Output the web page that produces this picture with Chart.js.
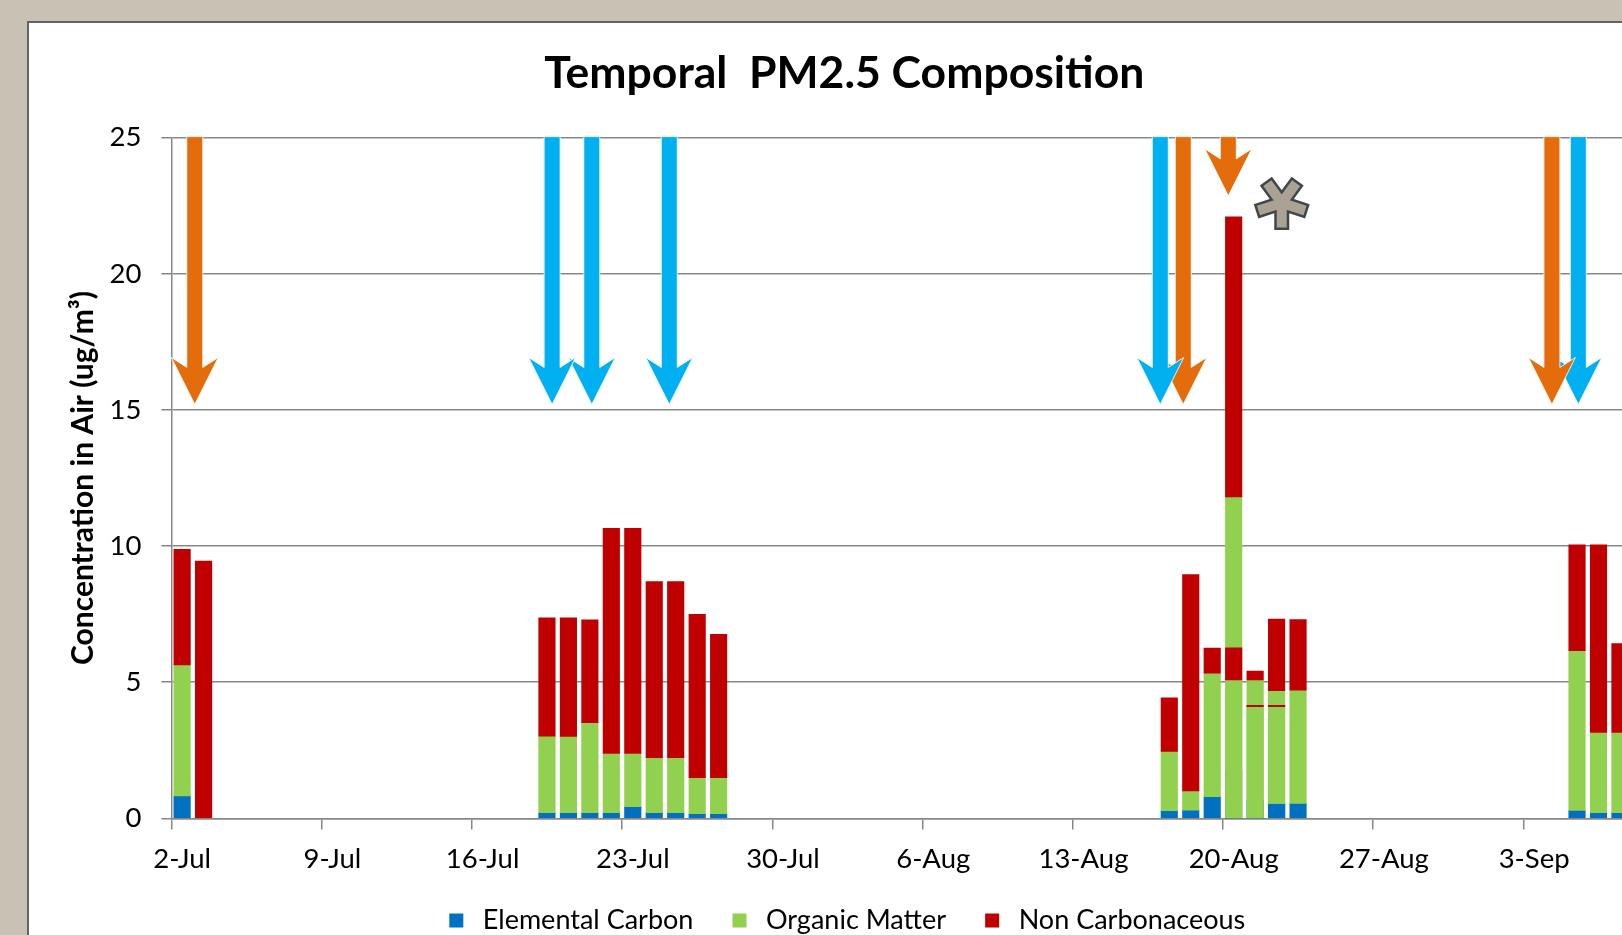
<!DOCTYPE html>
<html>
<head>
<meta charset="utf-8">
<title>Temporal PM2.5 Composition</title>
<script src="https://cdn.jsdelivr.net/npm/chart.js@4/dist/chart.umd.min.js"></script>
<style>
  html, body { margin: 0; padding: 0; width: 1622px; height: 935px; overflow: hidden; background: #c9c1b4; }
  #panel { position: absolute; left: 27px; top: 21px; width: 1720px; height: 1000px; background: #fff; border: 2px solid #5f6467; }
  #chart { position: absolute; left: 0; top: 0; }
</style>
</head>
<body>
<div id="panel"></div>
<canvas id="chart" width="1700" height="1000"></canvas>
<script>
// Sample days. A date may appear twice (two filters on one day) — Excel's
// date axis stacks them on the same slot, the later one painting over.
const sampleDates = [
  "2-Jul", "3-Jul",
  "19-Jul", "20-Jul", "21-Jul", "22-Jul", "23-Jul", "24-Jul", "25-Jul", "26-Jul", "27-Jul",
  "17-Aug", "18-Aug", "19-Aug", "20-Aug", "20-Aug", "21-Aug", "21-Aug", "22-Aug", "22-Aug", "23-Aug",
  "5-Sep", "6-Sep", "7-Sep",
];
const elementalCarbon = [
  0.82, 0,
  0.21, 0.21, 0.21, 0.21, 0.43, 0.21, 0.21, 0.17, 0.17,
  0.28, 0.30, 0.79, 0, 1.75, 0, 0.67, 0.55, 0.55, 0.55,
  0.29, 0.21, 0.21,
];
const organicMatter = [
  4.81, 0,
  2.81, 2.80, 3.30, 2.17, 1.95, 2.02, 2.02, 1.32, 1.32,
  2.18, 0.71, 4.54, 11.80, 3.33, 4.10, 4.41, 4.14, 3.55, 4.16,
  5.87, 2.94, 2.94,
];
const nonCarbonaceous = [
  4.25, 9.45,
  4.34, 4.35, 3.78, 8.27, 8.27, 6.46, 6.46, 6.00, 5.27,
  1.96, 7.94, 0.92, 10.29, 1.18, 0.05, 0.33, 2.63, 0.05, 2.59,
  3.88, 6.89, 3.27,
];

const tickLabels = ["2-Jul", "9-Jul", "16-Jul", "23-Jul", "30-Jul", "6-Aug", "13-Aug", "20-Aug", "27-Aug", "3-Sep"];
const dayCount = 70; // 2-Jul .. 9-Sep, the slide crops the rest

// Hand-drawn slide arrows: position in days after 2-Jul, tip value, colour.
const arrowDays = [0.59, 17.24, 19.09, 22.70, 45.58, 46.65, 48.75, 63.83, 65.06];
const arrowTips = [15.2, 15.2, 15.2, 15.2, 15.2, 15.2, 22.86, 15.2, 15.2];
const arrowKinds = ["orange", "blue", "blue", "blue", "blue", "orange", "orange", "orange", "blue"];
// the grey asterisk next to the 20-Aug spike
const markerDay = 51.24;
const markerValue = 22.6;

const MONTHS = { Jul: 6, Aug: 7, Sep: 8 };
function dayIndex(label) {
  const [d, m] = label.split("-");
  return (Date.UTC(2014, MONTHS[m], Number(d)) - Date.UTC(2014, 6, 2)) / 86400000;
}

const GRID = "#878787";
const ARROW = { orange: "#e46c0a", blue: "#00b0f0" };
const DAY_PX = 21.46;

// Floating segments [from, to] so repeated dates overlap instead of stacking.
const ecData = sampleDates.map((d, i) => ({ x: dayIndex(d), y: [0, elementalCarbon[i]] }));
const omData = sampleDates.map((d, i) => ({
  x: dayIndex(d),
  y: [elementalCarbon[i], elementalCarbon[i] + organicMatter[i]],
}));
const ncData = sampleDates.map((d, i) => {
  const base = elementalCarbon[i] + organicMatter[i];
  return { x: dayIndex(d), y: [base, base + nonCarbonaceous[i]] };
});

const barStyle = { grouped: false, barThickness: 16.5, borderWidth: 0 };

const slideMarks = {
  id: "slideMarks",
  afterDatasetsDraw(chart) {
    const { ctx, scales } = chart;
    const xs = scales.x;
    const ys = scales.y;
    const top = ys.getPixelForValue(25);
    ctx.save();

    // right to left: where two arrows touch, the left one sits on top
    const order = arrowDays.map((_, i) => i).sort((a, b) => arrowDays[b] - arrowDays[a]);
    for (const i of order) {
      const cx = xs.getPixelForValue(arrowDays[i]);
      const tip = ys.getPixelForValue(arrowTips[i]);
      ctx.beginPath();
      ctx.moveTo(cx - 8, top - 1);
      ctx.lineTo(cx - 8, tip - 37);
      ctx.lineTo(cx - 23.5, tip - 47);
      ctx.lineTo(cx, tip);
      ctx.lineTo(cx + 23.5, tip - 47);
      ctx.lineTo(cx + 8, tip - 37);
      ctx.lineTo(cx + 8, top - 1);
      ctx.closePath();
      ctx.fillStyle = ARROW[arrowKinds[i]];
      ctx.fill();
      ctx.lineWidth = 1;
      ctx.strokeStyle = "rgba(255,255,255,0.85)";
      ctx.stroke();
    }

    // five-armed asterisk, dark outline pass then tan fill pass
    const mx = xs.getPixelForValue(markerDay);
    const my = ys.getPixelForValue(markerValue);
    const arms = [0, 1, 2, 3, 4].map((k) => ((90 + 72 * k) * Math.PI) / 180);
    ctx.lineCap = "butt";
    [["#40464a", 15, 27], ["#aaa393", 10, 24.5]].forEach(([color, width, len]) => {
      ctx.beginPath();
      arms.forEach((a) => {
        ctx.moveTo(mx, my);
        ctx.lineTo(mx + len * Math.cos(a), my + len * Math.sin(a));
      });
      ctx.strokeStyle = color;
      ctx.lineWidth = width;
      ctx.stroke();
    });
    ctx.restore();
  },
};

Chart.defaults.font.family = "Lato, 'Open Sans', sans-serif";
Chart.defaults.color = "#000";

new Chart(document.getElementById("chart"), {
  type: "bar",
  data: {
    datasets: [
      // order: EC painted first, NC last (like Excel's series order)
      { label: "Elemental Carbon", data: ecData, backgroundColor: "#0070c0", order: 3, ...barStyle },
      { label: "Organic Matter", data: omData, backgroundColor: "#92d050", order: 2, ...barStyle },
      { label: "Non Carbonaceous", data: ncData, backgroundColor: "#c00000", order: 1, ...barStyle },
    ],
  },
  options: {
    responsive: false,
    animation: false,
    layout: { padding: { left: 15, right: 26.4, top: 0, bottom: 56 } },
    plugins: {
      title: {
        display: true,
        text: "Temporal  PM2.5 Composition",
        color: "#000",
        font: { size: 44.5, weight: "bold", lineHeight: 1.2 },
        padding: { top: 47.3, bottom: 36.9 },
      },
      legend: {
        position: "bottom",
        onClick: () => {},
        labels: {
          usePointStyle: true,
          pointStyle: "rect",
          boxWidth: 26,
          boxHeight: 14,
          padding: 33.1,
          color: "#000",
          font: { size: 27 },
          sort: (a, b) => a.datasetIndex - b.datasetIndex,
        },
      },
      tooltip: { enabled: false },
    },
    scales: {
      x: {
        type: "linear",
        offset: false,
        min: -0.5,
        max: dayCount - 0.5,
        // long tick slot keeps the legend close; the dash shows only 10px of it
        grid: {
          offset: false,
          drawOnChartArea: false,
          drawTicks: true,
          tickLength: 27,
          tickBorderDash: [10, 40],
          color: GRID,
          lineWidth: 1.5,
        },
        border: { color: GRID, width: 1.5 },
        ticks: {
          stepSize: 7,
          autoSkip: false,
          maxRotation: 0,
          padding: 0.55,
          labelOffset: DAY_PX / 2,
          font: { size: 27.5, lineHeight: 1 },
          callback: (v) => tickLabels[Math.round((v + 0.5) / 7)] || "",
        },
      },
      y: {
        min: 0,
        max: 25,
        afterFit(scale) {
          scale.width = 156.4;
        },
        grid: { color: GRID, lineWidth: 1.5, tickLength: 10 },
        border: { color: GRID, width: 1.5 },
        ticks: { stepSize: 5, padding: 20, font: { size: 27.5 } },
        title: {
          display: true,
          text: "Concentration in Air (ug/m³)",
          font: { size: 30, weight: "bold", lineHeight: 1.2 },
          padding: { top: 50.6, bottom: 0 },
        },
      },
    },
  },
  plugins: [slideMarks],
});
</script>
</body>
</html>
